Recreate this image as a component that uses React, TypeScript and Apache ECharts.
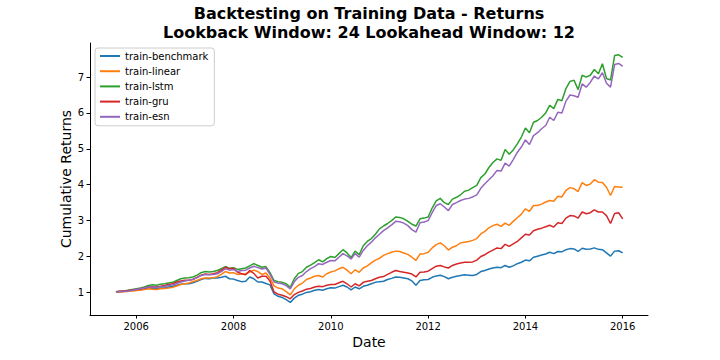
import React, { useEffect, useRef } from "react";
import * as echarts from "echarts";

// Monthly observations, first point = July 2005, last = December 2015
const startYear = 2005;
const startMonth = 7;

const seriesNames = ["train-benchmark", "train-linear", "train-lstm", "train-gru", "train-esn"];
const seriesColors = ["#1f77b4", "#ff7f0e", "#2ca02c", "#d62728", "#9467bd"];

const benchmark = [
  1.02, 1.02, 1.03, 1.04, 1.05, 1.07,
  1.08, 1.10, 1.12, 1.11, 1.10, 1.12,
  1.13, 1.15, 1.17, 1.20, 1.23, 1.24,
  1.24, 1.27, 1.31, 1.36, 1.39, 1.38,
  1.40, 1.40, 1.42, 1.45, 1.38, 1.37,
  1.33, 1.30, 1.31, 1.43, 1.38, 1.29,
  1.29, 1.25, 1.21, 0.96, 0.89, 0.86,
  0.80, 0.72, 0.84, 0.92, 0.95, 1.00,
  1.02, 1.06, 1.08, 1.06, 1.10, 1.13,
  1.12, 1.16, 1.20, 1.15, 1.07, 1.15,
  1.10, 1.17, 1.20, 1.24, 1.28, 1.30,
  1.31, 1.36, 1.39, 1.43, 1.42, 1.40,
  1.38, 1.32, 1.20, 1.33, 1.35, 1.36,
  1.42, 1.46, 1.48, 1.44, 1.38, 1.42,
  1.45, 1.47, 1.49, 1.48, 1.47, 1.50,
  1.58, 1.61, 1.65, 1.68, 1.70, 1.69,
  1.75, 1.70, 1.74, 1.80, 1.84, 1.90,
  1.88, 1.98, 2.01, 2.04, 2.07, 2.12,
  2.08, 2.14, 2.13, 2.19, 2.22, 2.21,
  2.14, 2.23, 2.20, 2.21, 2.24, 2.20,
  2.19, 2.10, 2.01, 2.15, 2.16, 2.10,
];

const linear = [
  1.02, 1.01, 1.02, 1.03, 1.04, 1.05,
  1.06, 1.08, 1.10, 1.09, 1.08, 1.10,
  1.11, 1.12, 1.14, 1.18, 1.22, 1.24,
  1.26, 1.30, 1.33, 1.38, 1.40, 1.40,
  1.41, 1.44, 1.50, 1.58, 1.54, 1.55,
  1.50, 1.51, 1.52, 1.57, 1.62, 1.58,
  1.50, 1.54, 1.40, 1.18, 1.12, 1.10,
  1.02, 0.93, 1.10, 1.20, 1.26, 1.36,
  1.40, 1.45, 1.47, 1.43, 1.52, 1.57,
  1.60, 1.66, 1.70, 1.62, 1.52, 1.63,
  1.56, 1.68, 1.74, 1.82, 1.90, 1.95,
  2.03, 2.08, 2.12, 2.15, 2.14, 2.10,
  2.06, 1.98, 1.89, 2.07, 2.08, 2.12,
  2.24, 2.33, 2.38, 2.30, 2.18, 2.26,
  2.30, 2.38, 2.40, 2.42, 2.45, 2.50,
  2.63, 2.70, 2.80, 2.86, 2.90, 2.84,
  2.93, 2.87, 2.98, 3.08, 3.18, 3.33,
  3.26, 3.42, 3.42, 3.46, 3.52, 3.56,
  3.54, 3.68, 3.66, 3.84, 3.92, 3.89,
  3.81, 4.06, 3.98, 4.02, 4.14, 4.07,
  4.06, 3.93, 3.70, 3.95, 3.94, 3.93,
];

const lstm = [
  1.02, 1.03, 1.04, 1.06, 1.08, 1.10,
  1.12, 1.15, 1.19, 1.21, 1.20, 1.23,
  1.24, 1.26, 1.28, 1.33, 1.38, 1.40,
  1.41, 1.43, 1.48, 1.55, 1.58, 1.57,
  1.58, 1.61, 1.66, 1.72, 1.67, 1.69,
  1.64, 1.66, 1.68, 1.74, 1.80, 1.75,
  1.70, 1.72, 1.55, 1.33, 1.30, 1.28,
  1.24, 1.14, 1.38, 1.53, 1.58, 1.70,
  1.76, 1.83, 1.91, 1.85, 1.94, 2.00,
  1.97, 2.08, 2.19, 2.10, 1.97, 2.15,
  2.05, 2.30, 2.42, 2.50, 2.62, 2.77,
  2.85, 2.92, 3.00, 3.10, 3.09, 3.05,
  2.98, 2.90, 2.85, 3.05, 3.07, 3.10,
  3.35, 3.55, 3.62, 3.50, 3.45, 3.60,
  3.65, 3.72, 3.82, 3.85, 3.92, 3.98,
  4.20, 4.30, 4.48, 4.62, 4.72, 4.68,
  4.98, 4.85, 4.97, 5.14, 5.33, 5.58,
  5.45, 5.74, 5.79, 5.88, 6.00, 6.21,
  6.12, 6.38, 6.34, 6.68, 6.88, 6.91,
  6.65, 7.05, 7.00, 7.05, 7.21, 7.09,
  7.37, 6.96, 6.92, 7.60, 7.62, 7.55,
];

const gru = [
  1.02, 1.03, 1.04, 1.05, 1.07, 1.08,
  1.10, 1.12, 1.15, 1.16, 1.15, 1.17,
  1.19, 1.22, 1.24, 1.29, 1.32, 1.34,
  1.34, 1.36, 1.42, 1.48, 1.51, 1.50,
  1.52, 1.55, 1.62, 1.70, 1.66, 1.67,
  1.56, 1.52, 1.49, 1.61, 1.53, 1.40,
  1.45, 1.45, 1.32, 1.01, 0.95, 0.92,
  0.88, 0.82, 0.94, 1.00, 1.04, 1.09,
  1.11, 1.15, 1.17, 1.16, 1.20, 1.22,
  1.22, 1.27, 1.31, 1.24, 1.15, 1.24,
  1.18, 1.28, 1.31, 1.33, 1.38, 1.42,
  1.44, 1.50, 1.56, 1.61, 1.58, 1.56,
  1.54, 1.51, 1.43, 1.56, 1.57, 1.59,
  1.66, 1.73, 1.75, 1.71, 1.68, 1.75,
  1.79, 1.82, 1.84, 1.84, 1.85, 1.90,
  2.00, 2.05, 2.12, 2.18, 2.24, 2.22,
  2.34, 2.28, 2.35, 2.42, 2.52, 2.62,
  2.60, 2.72, 2.76, 2.79, 2.83, 2.87,
  2.82, 2.94, 2.92, 3.07, 3.14, 3.13,
  3.07, 3.24, 3.19, 3.22, 3.30, 3.24,
  3.24, 3.14, 2.92, 3.20, 3.22, 3.05,
];

const esn = [
  1.02, 1.02, 1.03, 1.04, 1.06, 1.08,
  1.10, 1.12, 1.15, 1.15, 1.14, 1.16,
  1.17, 1.19, 1.21, 1.25, 1.29, 1.32,
  1.34, 1.37, 1.41, 1.47, 1.50, 1.49,
  1.50, 1.52, 1.58, 1.66, 1.62, 1.64,
  1.58, 1.61, 1.62, 1.68, 1.73, 1.69,
  1.65, 1.68, 1.50, 1.29, 1.26, 1.24,
  1.19, 1.10, 1.30, 1.42, 1.47, 1.58,
  1.66, 1.72, 1.80, 1.78, 1.84, 1.89,
  1.88, 1.98, 2.08, 2.02, 1.93, 2.08,
  1.98, 2.17, 2.30, 2.40, 2.52, 2.62,
  2.72, 2.80, 2.88, 2.98, 2.97, 2.93,
  2.86, 2.75, 2.68, 2.94, 2.96, 3.00,
  3.22, 3.42, 3.47, 3.38, 3.28, 3.45,
  3.50, 3.56, 3.60, 3.62, 3.66, 3.72,
  3.90, 4.03, 4.14, 4.25, 4.40, 4.38,
  4.60, 4.52, 4.70, 4.90, 5.05, 5.25,
  5.12, 5.37, 5.45, 5.56, 5.65, 5.88,
  5.79, 6.02, 6.00, 6.33, 6.50, 6.48,
  6.44, 6.81, 6.72, 6.85, 7.03, 6.95,
  7.12, 6.83, 6.72, 7.35, 7.38, 7.30,
];

const xTickYears = [2006, 2008, 2010, 2012, 2014, 2016];
const yTickValues = [1, 2, 3, 4, 5, 6, 7];

const titleText = "Backtesting on Training Data - Returns\nLookback Window: 24 Lookahead Window: 12";
const xLabel = "Date";
const yLabel = "Cumulative Returns";

const FONT = "DejaVu Sans";

export default function App() {
  const ref = useRef<HTMLDivElement>(null);

  useEffect(() => {
    if (!ref.current) return;
    const chart = echarts.init(ref.current, null, { renderer: "svg" });
    const allSeries = [benchmark, linear, lstm, gru, esn];
    // decimal-year position of each monthly observation
    const dateX = benchmark.map((_, i) => startYear + (startMonth + i) / 12);

    const option: any = {
      animation: false,
      backgroundColor: "#ffffff",
      textStyle: { fontFamily: FONT },
      grid: { left: 90, right: 72, top: 43, bottom: 45, containLabel: false },
      legend: {
        orient: "vertical",
        left: 95,
        top: 48,
        padding: [2, 6, 3, 5],
        itemWidth: 20,
        itemHeight: 2,
        itemGap: 3.2,
        icon: "rect",
        borderColor: "#cccccc",
        borderWidth: 1,
        borderRadius: 3,
        backgroundColor: "rgba(255,255,255,0.8)",
        textStyle: { fontFamily: FONT, fontSize: 10, color: "#000", lineHeight: 12 },
        data: seriesNames,
      },
      xAxis: {
        type: "value",
        min: 2005.05,
        max: 2016.52,
        axisLine: { show: true, lineStyle: { color: "#000", width: 1 } },
        axisTick: { show: true, length: 3.5, customValues: xTickYears, lineStyle: { color: "#000" } },
        axisLabel: {
          customValues: xTickYears,
          formatter: (v: number) => String(Math.round(v)),
          fontFamily: FONT,
          fontSize: 10,
          color: "#000",
          margin: 6,
        },
        splitLine: { show: false },
      },
      yAxis: {
        type: "value",
        min: 0.37,
        max: 7.95,
        axisLine: { show: true, lineStyle: { color: "#000", width: 1 } },
        axisTick: { show: true, length: 3.5, customValues: yTickValues, lineStyle: { color: "#000" } },
        axisLabel: {
          customValues: yTickValues,
          formatter: (v: number) => String(Math.round(v)),
          fontFamily: FONT,
          fontSize: 10,
          color: "#000",
          margin: 6,
        },
        splitLine: { show: false },
      },
      series: allSeries.map((vals, k) => ({
        name: seriesNames[k],
        type: "line",
        data: vals.map((v, i) => [dateX[i], v]),
        showSymbol: false,
        symbol: "none",
        lineStyle: { width: 1.5, color: seriesColors[k] },
        itemStyle: { color: seriesColors[k] },
        z: 2 + k,
      })),
      graphic: [
        {
          type: "text",
          x: 369,
          y: 22.8,
          style: {
            text: titleText,
            font: `bold 16px "${FONT}"`,
            lineHeight: 19.2,
            fill: "#000",
            textAlign: "center",
            textVerticalAlign: "middle",
          },
        },
        {
          type: "text",
          x: 369,
          y: 342,
          style: {
            text: xLabel,
            font: `14px "${FONT}"`,
            fill: "#000",
            textAlign: "center",
            textVerticalAlign: "middle",
          },
        },
        {
          type: "text",
          x: 66,
          y: 179,
          rotation: Math.PI / 2,
          style: {
            text: yLabel,
            font: `14px "${FONT}"`,
            fill: "#000",
            textAlign: "center",
            textVerticalAlign: "middle",
          },
        },
      ],
    };

    chart.setOption(option);
    return () => chart.dispose();
  }, []);

  return (
    <div
      ref={ref}
      style={{ position: "fixed", left: 0, top: 0, width: 720, height: 360, background: "#fff" }}
    />
  );
}
